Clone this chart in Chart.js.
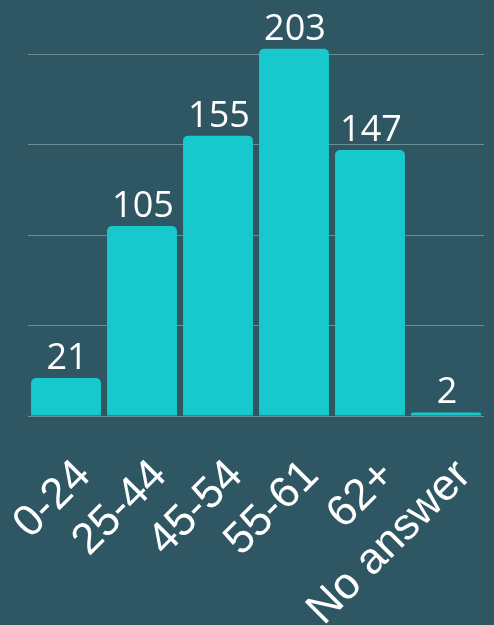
<!DOCTYPE html>
<html>
<head>
<meta charset="utf-8">
<script src="https://cdn.jsdelivr.net/npm/chart.js@4/dist/chart.umd.min.js"></script>
<style>
html,body{margin:0;padding:0;background:#2e5763;}
#wrap{width:494px;height:625px;position:relative;}
</style>
</head>
<body>
<div id="wrap"><canvas id="c"></canvas></div>
<script>
const categories = ["0-24", "25-44", "45-54", "55-61", "62+", "No answer"];
const counts = [21, 105, 155, 203, 147, 2];
const gridStep = 50;
const yMax = 230;

const valueLabels = {
  id: 'valueLabels',
  afterDatasetsDraw(chart) {
    const ctx = chart.ctx;
    const meta = chart.getDatasetMeta(0);
    ctx.save();
    ctx.fillStyle = '#ffffff';
    ctx.font = '36px "Open Sans"';
    ctx.textAlign = 'center';
    ctx.textBaseline = 'alphabetic';
    meta.data.forEach((bar, i) => {
      ctx.fillText(String(counts[i]), bar.x + 1, bar.y - 9);
    });
    ctx.restore();
  }
};

new Chart(document.getElementById('c'), {
  type: 'bar',
  data: {
    labels: categories,
    datasets: [{
      data: counts,
      backgroundColor: '#17c8cc',
      borderRadius: 5,
      borderSkipped: 'start',
      barPercentage: 0.92,
      categoryPercentage: 1.0
    }]
  },
  options: {
    responsive: true,
    maintainAspectRatio: false,
    animation: false,
    layout: { padding: { left: 28, right: 10, top: 0, bottom: 0 } },
    plugins: { legend: { display: false }, tooltip: { enabled: false } },
    scales: {
      x: {
        grid: { display: false },
        border: { display: false },
        ticks: {
          color: '#ffffff',
          font: { family: '"Liberation Sans", Arial, sans-serif', size: 44 },
          maxRotation: 45,
          minRotation: 45,
          autoSkip: false,
          padding: 26,
          labelOffset: 18
        },
        afterFit(scale) {
          scale.height = 209;
          scale.paddingLeft = 0;
          scale.paddingRight = 0;
        }
      },
      y: {
        min: 0,
        max: yMax,
        ticks: { display: false, stepSize: gridStep },
        border: { display: false },
        grid: {
          drawTicks: false,
          color: (c) => (c.tick && c.tick.value % gridStep === 0) ? '#6b8e95' : 'rgba(0,0,0,0)',
          lineWidth: 1
        },
        afterFit(scale) { scale.width = 0; }
      }
    }
  },
  plugins: [valueLabels]
});
</script>
</body>
</html>
